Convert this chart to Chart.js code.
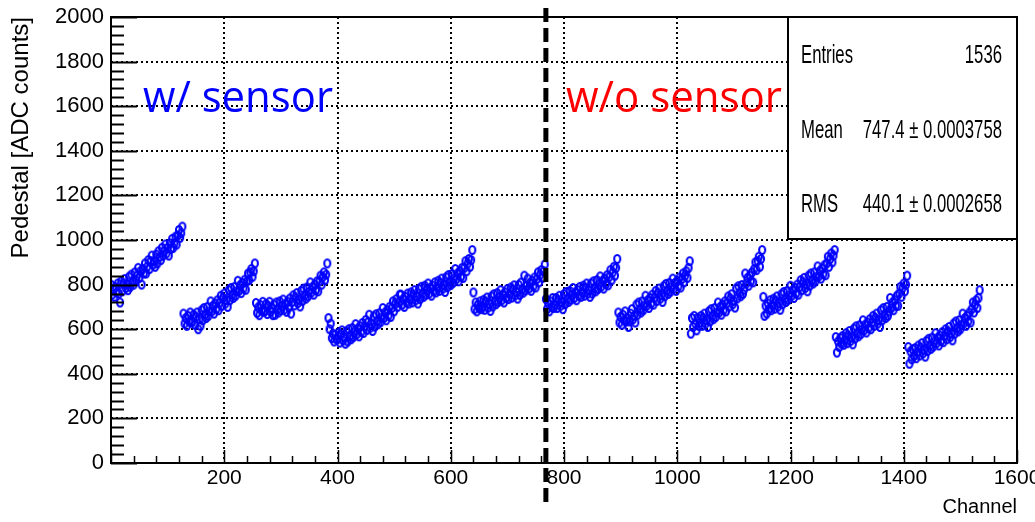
<!DOCTYPE html>
<html>
<head>
<meta charset="utf-8">
<script src="https://cdn.jsdelivr.net/npm/chart.js@4.4.1/dist/chart.umd.min.js"></script>
<style>html,body{margin:0;padding:0;background:#fff;overflow:hidden}canvas{display:block}</style>
</head>
<body>
<canvas id="c" width="1035" height="522"></canvas>
<script>
// ---- data (every 2nd channel) ----
const segmentFirstChannel = [0, 128, 256, 384, 512, 640, 768, 896, 1024, 1152, 1280, 1408];
const channelStep = 2;
const seg1 = [800,755,780,745,790,765,805,760, 720,815,770,805,825,785,800,775,
              835,790,845,815,800,855,820,840, 875,830,860,800,870,850,895,850,
              880,910,870,905,930,890,905,880, 935,895,950,925,910,965,930,950,
              980,940,965,930,985,960,1005,965, 985,1015,980,1020,1045,1010,1030,1060];
const seg2 = [670,625,650,615,660,635,675,630, 635,665,620,655,675,600,645,615,
              685,640,695,665,650,700,660,680, 725,680,705,670,715,690,730,685,
              720,750,705,740,760,715,730,700, 775,730,785,755,740,790,750,770,
              817,772,797,762,807,782,822,777, 815,850,820,855,870,835,860,895];
const seg3 = [718,673,698,663,708,683,723,678, 683,713,668,703,723,678,693,663,
              710,665,720,690,675,725,685,705, 733,688,713,678,723,698,738,670,
              722,752,707,742,762,717,732,702, 772,727,782,752,737,787,747,767,
              810,765,790,755,800,775,815,770, 815,840,800,835,855,820,845,895];
const seg4 = [650,600,625,560,580,545,575,555, 555,585,540,575,595,550,565,535,
              590,545,600,570,555,605,565,585, 623,578,603,568,613,588,628,583,
              612,642,597,632,665,607,622,592, 657,612,667,637,622,672,632,652,
              695,650,675,640,685,660,700,655, 695,725,680,715,735,700,720,755];
const seg5 = [755,710,735,700,745,720,760,715, 735,765,720,755,775,730,745,715,
              780,735,790,760,745,795,755,775, 805,760,785,750,795,770,810,765,
              787,817,772,807,827,782,797,767, 833,788,843,813,798,848,808,828,
              870,825,850,815,860,835,875,830, 875,905,860,895,915,880,910,955];
const seg6 = [765,690,720,680,710,695,725,690, 702,732,687,722,742,697,712,682,
              747,702,757,727,712,762,722,742, 775,730,755,720,765,740,780,735,
              757,787,742,777,797,752,767,737, 799,754,809,779,764,840,774,794,
              827,782,807,772,817,792,832,787, 825,855,810,845,865,830,860,890];
const seg7 = [735,690,715,680,725,700,740,695, 710,740,695,730,750,705,720,690,
              757,712,767,737,722,772,732,752, 785,740,765,730,775,750,790,745,
              765,795,750,785,805,760,775,745, 805,760,815,785,770,820,780,800,
              837,792,817,782,827,802,842,797, 835,865,820,855,880,840,875,915];
const seg8 = [675,630,655,620,665,640,680,635, 650,610,635,670,690,645,660,630,
              710,665,720,690,675,725,685,705, 750,705,730,695,740,715,755,710,
              742,772,727,762,782,737,752,722, 793,748,803,773,758,808,768,788,
              827,782,807,772,817,792,832,787, 825,850,810,840,860,830,875,905];
const seg9 = [580,650,610,660,625,595,650,615, 630,660,615,650,670,625,640,610,
              680,635,690,660,645,695,655,675, 720,675,700,665,710,685,725,680,
              717,747,702,737,757,712,727,697, 783,738,793,763,748,798,758,778,
              850,805,830,795,840,815,855,810, 870,900,865,905,925,880,915,955];
const seg10 = [745,660,705,670,715,690,730,685, 707,737,692,727,747,702,717,687,
               757,712,767,737,722,772,732,752, 795,750,775,740,785,760,800,755,
               790,820,775,810,830,785,800,770, 840,795,850,820,805,855,815,835,
               882,837,862,827,872,847,887,842, 895,925,880,915,940,900,930,955];
const seg11 = [565,495,545,520,560,535,570,530, 552,582,537,572,592,547,562,532,
               603,558,613,583,568,618,578,598, 640,595,620,585,630,605,645,600,
               630,660,615,650,670,625,640,610, 685,640,695,665,650,700,660,680,
               740,695,720,685,730,705,750,705, 760,790,745,785,805,770,800,840];
const seg12 = [520,445,500,465,510,480,515,470, 497,527,482,517,537,492,507,477,
               547,502,557,527,512,562,522,542, 582,537,562,527,572,547,587,542,
               570,600,555,590,610,565,580,550, 625,580,635,605,590,640,600,620,
               670,625,650,615,660,635,675,630, 690,720,675,710,730,695,740,775];
const segmentValues = [seg1,seg2,seg3,seg4,seg5,seg6,seg7,seg8,seg9,seg10,seg11,seg12];
const dividerChannel = 768;
const xTickLabels = [200,400,600,800,1000,1200,1400,1600];
const yTickLabels = [0,200,400,600,800,1000,1200,1400,1600,1800,2000];
const leftLabel = 'w/ sensor';
const rightLabel = 'w/o sensor';
const statNames = ['Entries','Mean','RMS'];
const statValues = ['1536','747.4 \u00b1 0.0003758','440.1 \u00b1 0.0002658'];
const xTitle = 'Channel';
const yTitle = 'Pedestal [ADC counts]';

// ---- build points ----
const points = [];
segmentValues.forEach((vals, s) => vals.forEach((v, i) => points.push({x: segmentFirstChannel[s] + i * channelStep, y: v})));

const NARROW = "'Liberation Sans Narrow', 'Liberation Sans', Arial, sans-serif";
const SANS = "'Liberation Sans', Arial, sans-serif";

function ellipseMarker() {
  const cv = document.createElement('canvas');
  cv.width = 10; cv.height = 12;
  const g = cv.getContext('2d');
  g.strokeStyle = '#0000ff'; g.lineWidth = 2.1;
  g.beginPath(); g.ellipse(5, 6, 3.0, 4.0, 0, 0, Math.PI * 2); g.stroke();
  return cv;
}

function fitText(ctx, text, x, y, font, color, align, width) {
  ctx.save();
  ctx.font = font; ctx.fillStyle = color; ctx.textAlign = align; ctx.textBaseline = 'alphabetic';
  const sx = width / ctx.measureText(text).width;
  ctx.translate(x, y); ctx.scale(sx, 1); ctx.fillText(text, 0, 0);
  ctx.restore();
}
function scaledText(ctx, text, x, y, font, color, align, sx) {
  ctx.save();
  ctx.font = font; ctx.fillStyle = color; ctx.textAlign = align; ctx.textBaseline = 'alphabetic';
  ctx.translate(x, y); ctx.scale(sx, 1); ctx.fillText(text, 0, 0);
  ctx.restore();
}

const overlay = {
  id: 'overlay',
  afterDatasetsDraw(chart) {
    const {ctx, chartArea: a, scales: {x, y}} = chart;
    ctx.save();
    // divider dashed line
    const px = x.getPixelForValue(dividerChannel);
    ctx.strokeStyle = '#000'; ctx.lineWidth = 5; ctx.setLineDash([14, 6]);
    ctx.beginPath(); ctx.moveTo(px, 8); ctx.lineTo(px, 508); ctx.stroke();
    ctx.setLineDash([]);
    // frame
    ctx.lineWidth = 2; ctx.strokeStyle = '#000';
    ctx.strokeRect(a.left, a.top, a.right - a.left, a.bottom - a.top);
    // y ticks (inside)
    for (let v = 0; v <= 2000; v += 40) {
      const py = Math.round(y.getPixelForValue(v)) + 0.5;
      const len = v % 200 === 0 ? 26 : 13;
      ctx.beginPath(); ctx.moveTo(a.left, py); ctx.lineTo(a.left + len, py); ctx.stroke();
    }
    // x ticks (inside)
    ctx.lineWidth = 1.5;
    for (let v = 0; v <= 1600; v += 40) {
      const pxx = Math.round(x.getPixelForValue(v)) + 0.5;
      const len = v % 200 === 0 ? 13 : 7;
      ctx.beginPath(); ctx.moveTo(pxx, a.bottom); ctx.lineTo(pxx, a.bottom - len); ctx.stroke();
    }
    // annotations
    fitText(ctx, leftLabel, 143, 112, "44px 'Open Sans', sans-serif", '#0000ff', 'left', 190);
    fitText(ctx, rightLabel, 566, 112, "44px 'Open Sans', sans-serif", '#ff0000', 'left', 216);
    // stats box
    const bx = 788, by = a.top, bw = a.right - 788, bh = 239 - a.top;
    ctx.fillStyle = '#fff'; ctx.fillRect(bx, by, bw, bh);
    ctx.lineWidth = 2; ctx.strokeStyle = '#000'; ctx.strokeRect(bx, by, bw, bh);
    ctx.font = '25px ' + SANS;
    const sx = 52 / ctx.measureText('Entries').width;
    const baselines = [63, 138, 212];
    statNames.forEach((n, i) => {
      scaledText(ctx, n, 801, baselines[i], '25px ' + SANS, '#000', 'left', sx);
      scaledText(ctx, statValues[i], 1002, baselines[i], '25px ' + SANS, '#000', 'right', sx);
    });
    ctx.restore();
  }
};

const gridColor = (c) => (c.tick && c.tick.value % 200 === 0) ? '#000' : 'rgba(0,0,0,0)';

new Chart(document.getElementById('c'), {
  type: 'scatter',
  data: {datasets: [{data: points, pointStyle: ellipseMarker(), pointRadius: 4, borderColor: '#0000ff', backgroundColor: 'rgba(0,0,0,0)', showLine: false}]},
  options: {
    responsive: false, animation: false, devicePixelRatio: 1, events: [],
    layout: {padding: {left: 0, right: 18, top: 17, bottom: 0}},
    plugins: {legend: {display: false}, tooltip: {enabled: false}},
    scales: {
      x: {
        type: 'linear', min: 0, max: 1600,
        afterFit(s) { s.height = 59; s.paddingLeft = 0; s.paddingRight = 0; },
        border: {display: false, dash: [2, 3]},
        grid: {color: gridColor, lineWidth: 2, drawTicks: false},
        ticks: {stepSize: 40, autoSkip: false, maxRotation: 0, minRotation: 0, padding: 3, color: '#000',
          font: {family: NARROW, size: 21},
          callback: (v) => xTickLabels.includes(v) ? String(v) : ''},
        title: {display: true, text: xTitle, align: 'end', color: '#000', font: {family: NARROW, size: 20}, padding: {top: 0, bottom: 3}}
      },
      y: {
        min: 0, max: 2000,
        afterFit(s) { s.width = 111; s.paddingTop = 0; s.paddingBottom = 0; },
        border: {display: false, dash: [2, 3]},
        grid: {color: gridColor, lineWidth: 2, drawTicks: false},
        ticks: {stepSize: 40, autoSkip: false, padding: 7, color: '#000',
          font: {family: NARROW, size: 22},
          callback: (v) => yTickLabels.includes(v) ? String(v) : ''},
        title: {display: true, text: yTitle, align: 'end', color: '#000', font: {family: SANS, size: 24}, padding: {top: 7, bottom: 0}}
      }
    }
  },
  plugins: [overlay]
});
</script>
</body>
</html>
